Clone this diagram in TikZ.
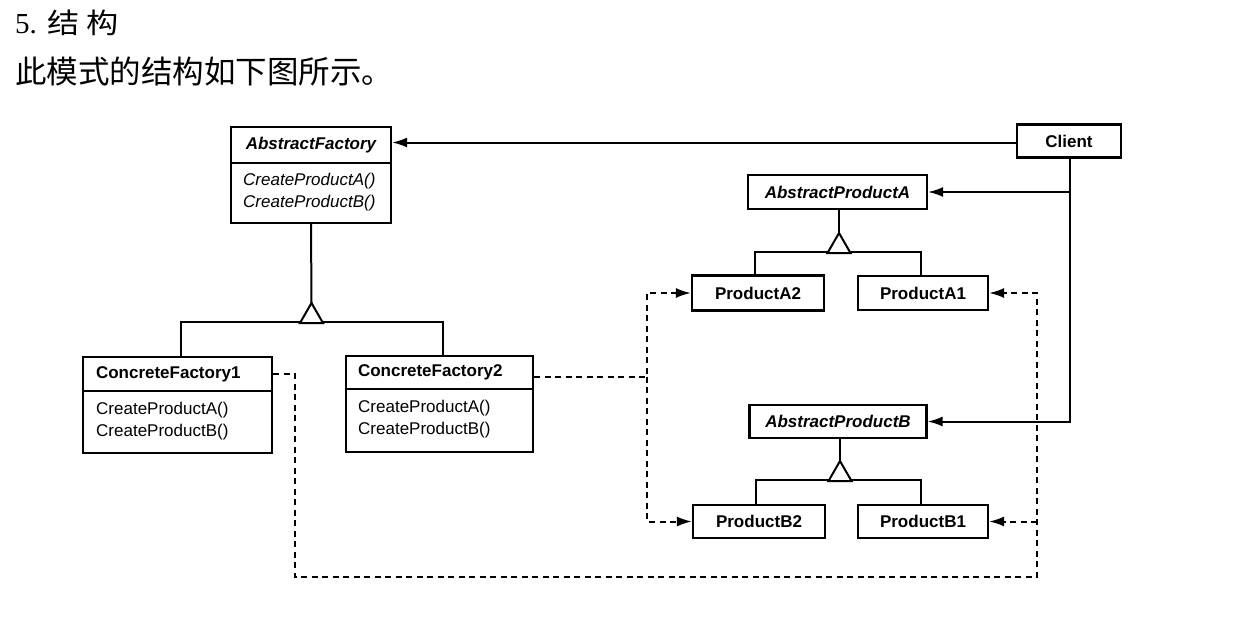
\documentclass[tikz,border=0pt]{standalone}
\usepackage{fontspec}
\setmainfont{Liberation Sans}
\newfontfamily\cjk{Noto Sans CJK SC}
\newfontfamily\cjkw[FakeStretch=1.15]{Noto Sans CJK SC}
\newfontfamily\serifnum{Liberation Serif}
\usetikzlibrary{arrows.meta}
\begin{document}
\begin{tikzpicture}[x=1pt,y=-1pt,
  box/.style={draw, line width=2.2pt, inner sep=0pt, anchor=center},
  bt/.style={font=\fontsize{17}{19}\selectfont\bfseries},
  bit/.style={font=\fontsize{17}{19}\selectfont\bfseries\itshape},
  mt/.style={font=\fontsize{17}{21.5}\selectfont, align=left, anchor=west, inner sep=0pt},
  conn/.style={line width=2pt},
  dconn/.style={line width=2pt, dash pattern=on 6pt off 4.5pt},
  tip/.style={-{Latex[length=15pt,width=10pt]}},
  tri/.style={draw, line width=2pt, fill=white, line join=miter},
]
\useasboundingbox (0,0) rectangle (1242,626);

% header
\node[anchor=base west, inner sep=0pt] (h1) at (15,34)
  {{\fontsize{29}{32}\selectfont\serifnum 5.}\hspace{11pt}{\fontsize{28}{30}\selectfont\cjkw 结}\hspace{6.5pt}{\fontsize{28}{30}\selectfont\cjkw 构}};
\node[anchor=base west, inner sep=0pt, font=\fontsize{31.5}{34}\selectfont\cjk] (h2) at (15,84) {此模式的结构如下图所示。};

% AbstractFactory
\node[box,bit,minimum width=160pt,minimum height=36pt] (af) at (311,145) {AbstractFactory};
\node[box,minimum width=160pt,minimum height=60pt] (afm) at (311,193) {};
\node[mt,font=\fontsize{17}{21.5}\selectfont\itshape] (afmt) at (243,192) {CreateProductA()\\CreateProductB()};

% ConcreteFactory1
\node[box,bt,minimum width=189pt,minimum height=34pt,text width=163pt,inner xsep=13pt,align=left] (cf1) at (177.5,374) {ConcreteFactory1};
\node[box,minimum width=189pt,minimum height=62pt] (cf1m) at (177.5,422) {};
\node[mt] (cf1t) at (96,421) {CreateProductA()\\CreateProductB()};

% ConcreteFactory2
\node[box,bt,minimum width=187pt,minimum height=33pt,text width=163pt,inner xsep=12pt,align=left] (cf2) at (439.5,372.5) {ConcreteFactory2};
\node[box,minimum width=187pt,minimum height=63pt] (cf2m) at (439.5,420.5) {};
\node[mt] (cf2t) at (358,419) {CreateProductA()\\CreateProductB()};

% Client and products
\node[box,bt,minimum width=104pt,minimum height=33pt] (cl) at (1069,141) {Client};
\node[box,bit,minimum width=179pt,minimum height=34pt] (apa) at (837.5,192) {AbstractProductA};
\node[box,bit,minimum width=177pt,minimum height=33pt] (apb) at (838,421.5) {AbstractProductB};
\node[box,bt,minimum width=132pt,minimum height=35pt] (pa2) at (758,293) {ProductA2};
\node[box,bt,minimum width=130pt,minimum height=34pt] (pa1) at (923,293) {ProductA1};
\node[box,bt,minimum width=132pt,minimum height=33pt] (pb2) at (759,521.5) {ProductB2};
\node[box,bt,minimum width=130pt,minimum height=33pt] (pb1) at (923,521.5) {ProductB1};

% Client associations
\draw[conn,tip] ([yshift=-1.5pt]cl.west) -- ([yshift=-1.5pt]cl.west -| af.east);
\draw[conn,tip] ([xshift=1pt]cl.south) -- ([xshift=1pt]cl.south |- apb.east) -- (apb.east);
\draw[conn,tip] ([xshift=1pt]cl.south |- apa.east) -- (apa.east);

% inheritance: factories
\coordinate (afapex) at (311.5,303);
\draw[conn] (afm.south) -- (afapex);
\draw[conn] ([xshift=3.5pt]cf1.north) -- ++(0,-34) -| ([xshift=3.5pt]cf2.north);
\draw[tri] (afapex) -- ++(-11.5,20) -- ++(23,0) -- cycle;

% inheritance: products A
\coordinate (aapex) at (839,233);
\draw[conn] (apa.south -| aapex) -- (aapex);
\draw[conn] ([xshift=-3pt]pa2.north) -- ++(0,-22) -| ([xshift=-2pt]pa1.north);
\draw[tri] (aapex) -- ++(-11.5,20) -- ++(23,0) -- cycle;

% inheritance: products B
\coordinate (bapex) at (840,461);
\draw[conn] (apb.south -| bapex) -- (bapex);
\draw[conn] ([xshift=-3pt]pb2.north) -- ++(0,-24) -| ([xshift=-2pt]pb1.north);
\draw[tri] (bapex) -- ++(-11.5,20) -- ++(23,0) -- cycle;

% dashed creation links
\coordinate (dl) at (647,293);
\coordinate (dr) at (1037,293);
\coordinate (db) at (295,577);
\draw[dconn,tip] ([yshift=-4pt]cf2.east) -| (dl) -- (pa2.west);
\draw[dconn,tip] ([yshift=-4pt]cf2.east -| dl) |- (pb2.west);
\draw[dconn,tip] (cf1.east) -| (db) -| (dr) -- (pa1.east);
\draw[dconn,tip] (pb1.east -| dr) -- (pb1.east);
\end{tikzpicture}
\end{document}
